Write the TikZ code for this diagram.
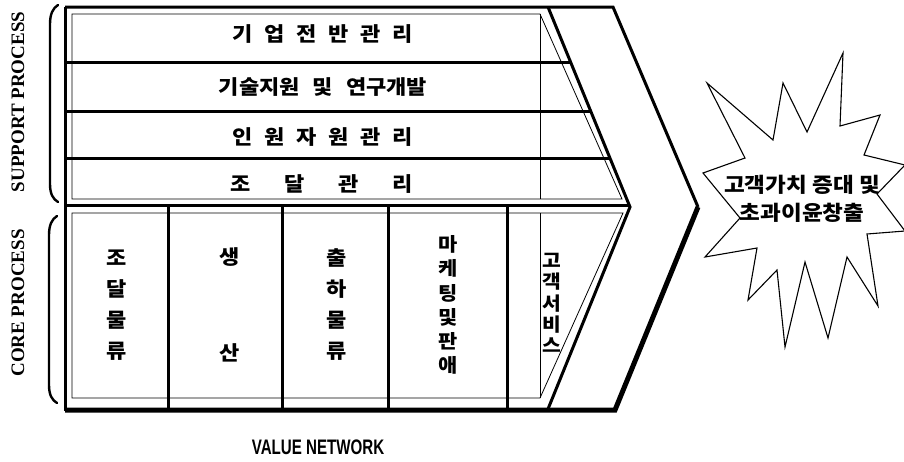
\documentclass[tikz,border=0pt]{standalone}
\usepackage{fontspec}
\newfontfamily\kr[FakeStretch=1.1]{Noto Sans CJK KR}
\newfontfamily\serifb{Liberation Serif}
\newfontfamily\sansl{Liberation Sans}
\begin{document}
\begin{tikzpicture}[x=1pt,y=-1pt,
  heavyline/.style={line width=3pt},
  boldline/.style={line width=5pt},
  thinline/.style={line width=0.8pt},
  braceline/.style={line width=2.4pt, line cap=round},
  starline/.style={line width=1.1pt, line join=miter},
  kor/.style={inner sep=0pt, font=\kr\bfseries\fontsize{20}{22}\selectfont},
  colA/.style={inner sep=0pt, align=center, font=\kr\bfseries\fontsize{20}{31}\selectfont},
  colB/.style={inner sep=0pt, align=center, font=\kr\bfseries\fontsize{19}{24.2}\selectfont},
  colC/.style={inner sep=0pt, align=center, font=\kr\bfseries\fontsize{18.5}{21.3}\selectfont},
  startext/.style={inner sep=0pt, align=center, font=\kr\bfseries\fontsize{20.5}{28}\selectfont},
  sidelabel/.style={inner sep=0pt, rotate=90, font=\serifb\bfseries\fontsize{19}{21}\selectfont},
  bottomlabel/.style={inner sep=0pt, font=\sansl\bfseries\fontsize{21}{23}\selectfont}
]
\useasboundingbox (0,0) rectangle (904,461);

% thin inset frames
\draw[thinline] (72,14) -- (540,14) -- (622,199) -- (72,199) -- cycle;
\draw[thinline] (540,14) -- (540,199);
\draw[thinline] (72,213) -- (623,213) -- (540,398) -- (72,398) -- cycle;
\draw[thinline] (540,213) -- (540,398);

% outer chevron
\draw[heavyline] (65,7) -- (613,7) -- (698,207);
\draw[boldline] (698,207) -- (615,410) -- (65,410);
\draw[heavyline] (65,7) -- (65,411);

% inner chevron
\draw[heavyline] (548,7) -- (630,207) -- (548,409);

% support / core separator and support rows
\draw[heavyline] (65,205) -- (629,205);
\draw[heavyline] (65,62) -- (570.5,62);
\draw[heavyline] (65,111) -- (590.6,111);
\draw[heavyline] (65,158) -- (609.9,158);

% core dividers
\draw[heavyline] (168,205) -- (168,409);
\draw[heavyline] (282,205) -- (282,409);
\draw[heavyline] (388,205) -- (388,409);
\draw[heavyline] (507,205) -- (507,409);

% braces
\draw[braceline] (58,5) .. controls (53,8) and (50,14) .. (50,24) -- (50,184) .. controls (50,194) and (53,199) .. (58,202);
\draw[braceline] (57,216) .. controls (52,219) and (49,225) .. (49,235) -- (49,385) .. controls (49,395) and (52,400) .. (57,403);

% side labels
\node[sidelabel] (sp) at (18,102) {SUPPORT PROCESS};
\node[sidelabel] (cp) at (18,303) {CORE PROCESS};

% support rows text
\node[kor] (r1) at (323,34) {\spaceskip=11.8pt\relax 기 업 전 반 관 리};
\node[kor] (r2) at (323,87) {\spaceskip=13pt\relax 기술지원 및 연구개발};
\node[kor] (r3) at (323,137) {\spaceskip=11.8pt\relax 인 원 자 원 관 리};
\node[kor] (r4) at (322,184) {\spaceskip=33.7pt\relax 조 달 관 리};

% core columns text
\node[colA] (c1) at (117,305) {조\\달\\물\\류};
\node[colA] (c2) at (230,305) {생\\[65pt]산};
\node[colA] (c3) at (337,305) {출\\하\\물\\류};
\node[colB] (c4) at (448,305) {마\\케\\팅\\및\\판\\애};
\node[colC] (c5) at (552,303) {고\\객\\서\\비\\스};

% star burst
\draw[starline] (843,53) -- (840,126) -- (880,115) -- (864,155) -- (905,165) -- (877,194)
  -- (905,231) -- (867,234) -- (878,306) -- (847,257) -- (828,338) -- (805,262)
  -- (785,347) -- (777,270) -- (748,300) -- (757,248) -- (705,257) -- (740,218)
  -- (703,173) -- (745,158) -- (707,83) -- (773,140) -- (783,83) -- (807,132) -- cycle;
\node[startext] (st) at (802,199) {고객가치 증대 및\\초과이윤창출};

% bottom label
\node[bottomlabel] (vn) at (318,447) {\scalebox{0.72}[1]{VALUE NETWORK}};
\end{tikzpicture}
\end{document}
